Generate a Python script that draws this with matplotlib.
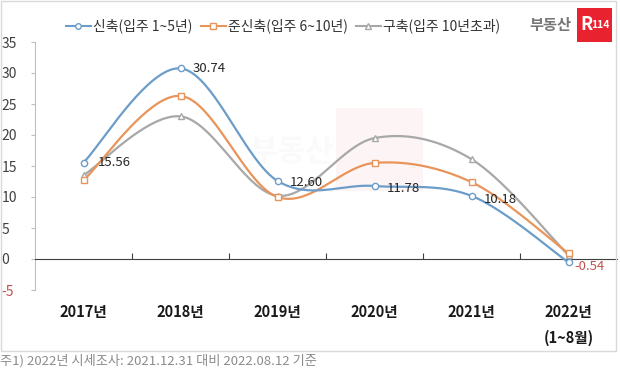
import numpy as np
import matplotlib
matplotlib.use('Agg')
import matplotlib.pyplot as plt
from matplotlib.patches import Rectangle
from matplotlib.lines import Line2D
import matplotlib.transforms as mtransforms

plt.rcParams['font.family'] = ['Noto Sans CJK KR', 'DejaVu Sans']

years = ['2017년', '2018년', '2019년', '2020년', '2021년', '2022년\n(1~8월)']
new_vals = [15.56, 30.74, 12.60, 11.78, 10.18, -0.54]      # 신축
semi_vals = [12.7, 26.3, 10.0, 15.5, 12.4, 0.9]            # 준신축
old_vals = [13.5, 23.0, 10.2, 19.5, 16.1, 0.6]             # 구축
series_names = ['신축(입주 1~5년)', '준신축(입주 6~10년)', '구축(입주 10년초과)']
label_texts = ['15.56', '30.74', '12.60', '11.78', '10.18', '-0.54']
yticks = [-5, 0, 5, 10, 15, 20, 25, 30, 35]

c_blue = '#6c9dc9'
c_orange = '#e8945a'
c_gray = '#a8a8a8'


def smooth(xs, ys, n=40):
    # excel style smoothing: bezier with catmull-rom control points
    pts = np.column_stack([xs, ys]).astype(float)
    out = []
    for i in range(len(pts) - 1):
        p0 = pts[i - 1] if i > 0 else pts[i]
        p1 = pts[i]
        p2 = pts[i + 1]
        p3 = pts[i + 2] if i + 2 < len(pts) else pts[i + 1]
        b1 = p1 + (p2 - p0) / 6
        b2 = p2 - (p3 - p1) / 6
        t = np.linspace(0, 1, n)[:, None]
        seg = ((1 - t) ** 3) * p1 + 3 * ((1 - t) ** 2) * t * b1 + 3 * (1 - t) * t ** 2 * b2 + t ** 3 * p2
        out.append(seg)
    out = np.vstack(out)
    return out[:, 0], out[:, 1]


fig = plt.figure(figsize=(6.2, 3.73), dpi=100)
W, H = 620, 373
ax = fig.add_axes([35 / W, (H - 290) / H, (617 - 35) / W, (290 - 42) / H])

x = np.arange(len(years))

# faint watermark
ax.add_patch(Rectangle((2.6, 11.0), 0.9, 13.4, color='#fdf5f5', zorder=0, lw=0))
ax.text(2.15, 17.2, '부동산', color='#fafafa', fontsize=22, fontweight='bold',
        ha='center', va='center', zorder=0)

for vals, col, mk, ms in [(old_vals, c_gray, '^', 5),
                          (semi_vals, c_orange, 's', 5),
                          (new_vals, c_blue, 'o', 4.5)]:
    sx, sy = smooth(x, vals)
    ax.plot(sx, sy, color=col, lw=1.6, zorder=3)
    ax.plot(x, vals, ls='none', marker=mk, ms=ms, mfc='white', mec=col, mew=1.0, zorder=4)

offsets = [(10, 0), (9, 0), (9, -1.5), (9, -1.5), (9, -2.5), (4, -3)]
for i, (t, off) in enumerate(zip(label_texts, offsets)):
    ax.annotate(t, (x[i], new_vals[i]), xytext=off, textcoords='offset points',
                ha='left', va='center', fontsize=9.5,
                color='#c0504d' if new_vals[i] < 0 else '#262626', zorder=5)

ax.set_xlim(-0.5, 5.5)
ax.set_ylim(-5, 35)
ax.set_yticks(yticks)
ax.set_yticklabels([str(v) for v in yticks], fontsize=10)
for lab, v in zip(ax.get_yticklabels(), yticks):
    lab.set_color('#c0504d' if v < 0 else '#404040')
    lab.set_horizontalalignment('left')
ax.tick_params(axis='y', direction='out', length=3, color='#bfbfbf', pad=21)

ax.spines['top'].set_visible(False)
ax.spines['right'].set_visible(False)
ax.spines['left'].set_color('#bfbfbf')
ax.spines['bottom'].set_position(('data', 0))
ax.spines['bottom'].set_color('#404040')
ax.set_xticks(np.arange(0.5, 5, 1))
ax.set_xticklabels([])
ax.tick_params(axis='x', direction='in', length=4, color='#404040')

trans = mtransforms.blended_transform_factory(ax.transData, fig.transFigure)
for i, y in enumerate(years):
    ax.text(x[i], 1 - 304 / H, y, transform=trans, ha='center', va='top',
            fontsize=10.5, fontweight='bold', color='#1a1a1a', linespacing=1.75)

# legend
handles = [Line2D([], [], color=c_blue, marker='o', ms=4, mfc='white', lw=1.5),
           Line2D([], [], color=c_orange, marker='s', ms=4.5, mfc='white', lw=1.5),
           Line2D([], [], color=c_gray, marker='^', ms=4.5, mfc='white', lw=1.5)]
fig.legend(handles, series_names, loc='center', bbox_to_anchor=(283 / W, 1 - 26 / H),
           ncol=3, frameon=False, fontsize=10, handlelength=1.8, handletextpad=0.15,
           columnspacing=0.6, labelcolor='#333333')

# logo
fig.text(550 / W, 1 - 25 / H, '부동산', fontsize=11, fontweight='bold', color='#777777',
         ha='center', va='center')
fig.add_artist(Rectangle((577 / W, 1 - 42 / H), 35 / W, 34 / H, transform=fig.transFigure,
                         color='#e8232f', lw=0))
fig.text(586 / W, 1 - 25 / H, 'R', fontsize=13, fontweight='bold', color='white',
         ha='center', va='center')
fig.text(600 / W, 1 - 25 / H, '114', fontsize=7.5, fontweight='bold', color='white',
         ha='center', va='center')

# outer frame
fig.add_artist(Rectangle((1 / W, 1 - 351 / H), 615 / W, 350 / H, transform=fig.transFigure,
                         fill=False, edgecolor='#d9d9d9', lw=1))

fig.text(0 / W, 1 - 361 / H, '주1) 2022년 시세조사: 2021.12.31 대비 2022.08.12 기준',
         fontsize=9.5, color='#8c8c8c', ha='left', va='center')

fig.savefig('out.png', dpi=100)
